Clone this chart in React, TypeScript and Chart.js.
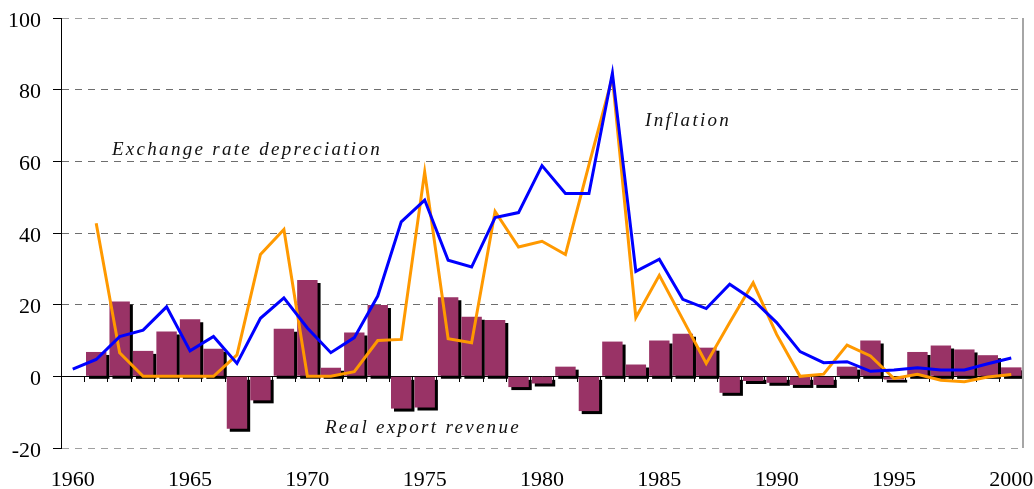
import React, { useEffect, useRef } from "react";
import { Chart, registerables } from "chart.js";

Chart.register(...registerables);

const years = [
  "1960", "1961", "1962", "1963", "1964", "1965", "1966", "1967", "1968", "1969",
  "1970", "1971", "1972", "1973", "1974", "1975", "1976", "1977", "1978", "1979",
  "1980", "1981", "1982", "1983", "1984", "1985", "1986", "1987", "1988", "1989",
  "1990", "1991", "1992", "1993", "1994", "1995", "1996", "1997", "1998", "1999",
  "2000",
];

const inflation = [
  2, 4.7, 11.1, 12.9, 19.4, 7.1, 11.1, 3.6, 16.2, 21.9,
  13.5, 6.6, 10.8, 22.4, 43.1, 49.2, 32.4, 30.5, 44.3, 45.7,
  58.8, 51.0, 51.0, 84.6, 29.3, 32.7, 21.5, 18.9, 25.7, 21.3,
  15.0, 6.9, 3.8, 4.1, 1.4, 1.8, 2.4, 1.8, 1.8, 3.5,
  5.1,
];

const exchangeRateDepreciation = [
  null, 42.7, 6.6, 0, 0, 0, 0, 6, 34.0, 41.0,
  0, 0, 1.3, 10.0, 10.3, 57.0, 10.5, 9.4, 46.0, 36.1,
  37.7, 34.0, 59, 83.5, 16.4, 28.2, 15.9, 3.6, 15.0, 26.1,
  11.7, 0, 0.6, 8.7, 5.7, -0.6, 0.6, -1.1, -1.5, -0.2,
  0.5,
];

const realExportRevenue = [
  null, 6.8, 20.9, 7.1, 12.5, 15.9, 7.7, -14.6, -6.7, 13.3,
  26.9, 2.4, 12.2, 19.9, -9.0, -8.7, 22.1, 16.6, 15.7, -3.0,
  -2.0, 2.7, -9.7, 9.7, 3.3, 10.0, 11.9, 8.0, -4.6, -1.3,
  -1.8, -2.4, -2.4, 2.7, 10.0, -0.9, 6.8, 8.6, 7.5, 5.9,
  2.5,
];

const yTicks = [-20, 0, 20, 40, 60, 80, 100];

// Annotation labels: text, anchor year (fractional) and value (baseline)
const noteTexts = ["Exchange rate depreciation", "Inflation", "Real export revenue"];
const noteYears = [1961.67, 1984.39, 1970.75];
const noteValues = [61.7, 70.0, -15.9];

const SERIF = '"Liberation Serif", "Times New Roman", serif';

const barShadowPlugin = {
  id: "barShadow",
  beforeDatasetDraw(chart: any, args: any) {
    const ds = chart.data.datasets[args.index];
    if (ds.type === "bar") {
      const ctx = chart.ctx;
      ctx.save();
      ctx.shadowColor = "#000000";
      ctx.shadowOffsetX = 3;
      ctx.shadowOffsetY = 3;
      ctx.shadowBlur = 0;
    }
  },
  afterDatasetDraw(chart: any, args: any) {
    const ds = chart.data.datasets[args.index];
    if (ds.type === "bar") chart.ctx.restore();
  },
};

const framePlugin = {
  id: "frameAndNotes",
  afterDatasetsDraw(chart: any) {
    const { ctx, chartArea, scales } = chart;
    const x = scales.x;
    const y = scales.y;
    ctx.save();
    ctx.strokeStyle = "#A6A6A6";
    ctx.lineWidth = 2;
    ctx.beginPath();
    ctx.moveTo(chartArea.right, chartArea.top);
    ctx.lineTo(chartArea.right, chartArea.bottom);
    ctx.stroke();

    ctx.font = `italic 19px ${SERIF}`;
    ctx.fillStyle = "#111111";
    ctx.textAlign = "left";
    ctx.textBaseline = "alphabetic";
    (ctx as any).letterSpacing = "2.3px";
    const first = Number(years[0]);
    noteTexts.forEach((t, i) => {
      ctx.fillText(t, x.getPixelForValue(noteYears[i] - first), y.getPixelForValue(noteValues[i]));
    });
    ctx.restore();
  },
};

export default function App() {
  const ref = useRef<HTMLCanvasElement | null>(null);

  useEffect(() => {
    if (!ref.current) return;
    const chart = new Chart(ref.current, {
      type: "bar",
      data: {
        labels: years,
        datasets: [
          {
            type: "line",
            label: "Inflation",
            data: inflation,
            borderColor: "#0000FF",
            backgroundColor: "#0000FF",
            borderWidth: 3,
            pointRadius: 0,
            tension: 0,
            order: 0,
            xAxisID: "x",
            yAxisID: "y",
          } as any,
          {
            type: "line",
            label: "Exchange rate depreciation",
            data: exchangeRateDepreciation,
            borderColor: "#FF9900",
            backgroundColor: "#FF9900",
            borderWidth: 3,
            pointRadius: 0,
            tension: 0,
            order: 1,
            xAxisID: "x",
            yAxisID: "y",
          } as any,
          {
            type: "bar",
            label: "Real export revenue",
            data: realExportRevenue,
            backgroundColor: "#993366",
            borderWidth: 0,
            categoryPercentage: 1,
            barPercentage: 0.87,
            order: 2,
            xAxisID: "x",
            yAxisID: "y",
          } as any,
        ],
      },
      options: {
        animation: false,
        responsive: true,
        maintainAspectRatio: false,
        layout: { padding: { top: 18, right: 11, left: 0, bottom: 0 } },
        plugins: {
          legend: { display: false },
          tooltip: { enabled: false },
        },
        scales: {
          x: {
            type: "category",
            offset: true,
            grid: { display: false, drawTicks: false },
            border: { display: false },
            ticks: {
              autoSkip: false,
              maxRotation: 0,
              minRotation: 0,
              padding: 19,
              color: "#000",
              font: { family: SERIF, size: 22 },
              callback: (_v: any, i: number) => (Number(years[i]) % 5 === 0 ? years[i] : ""),
            },
            afterFit: (s: any) => {
              s.height = 41;
              s.paddingLeft = 0;
              s.paddingRight = 0;
            },
          },
          x2: {
            type: "category",
            position: { y: 0 },
            offset: true,
            grid: {
              offset: true,
              drawOnChartArea: false,
              drawTicks: true,
              tickLength: 5,
              tickColor: "#000",
              color: "#000",
            },
            border: { display: true, color: "#000", width: 1 },
            ticks: { display: false, autoSkip: false },
            afterFit: (s: any) => {
              s.paddingLeft = 0;
              s.paddingRight = 0;
            },
          },
          y: {
            min: -20,
            max: 100,
            afterBuildTicks: (s: any) => {
              s.ticks = yTicks.map((v) => ({ value: v }));
            },
            ticks: {
              color: "#000",
              padding: 12,
              labelOffset: 3,
              font: { family: SERIF, size: 22 },
            },
            grid: {
              color: (c: any) => (c.tick && c.tick.value === 0 ? "#000" : c.tick && (c.tick.value === 100 || c.tick.value === -20) ? "#A0A0A0" : "#6E6E6E"),
              tickColor: "#000",
              tickLength: 8,
              lineWidth: 1,
            },
            border: {
              display: true,
              color: "#000",
              width: 1,
              dash: (c: any) => (c.tick && c.tick.value === 0 ? [] : [7, 6]),
            },
            afterFit: (s: any) => {
              s.width = 61;
              s.paddingTop = 0;
              s.paddingBottom = 0;
            },
          },
        },
      },
      plugins: [barShadowPlugin, framePlugin],
    });
    return () => chart.destroy();
  }, []);

  return (
    <div style={{ position: "fixed", left: 0, top: 0, width: 1034, height: 489, background: "#fff" }}>
      <canvas ref={ref} />
    </div>
  );
}
